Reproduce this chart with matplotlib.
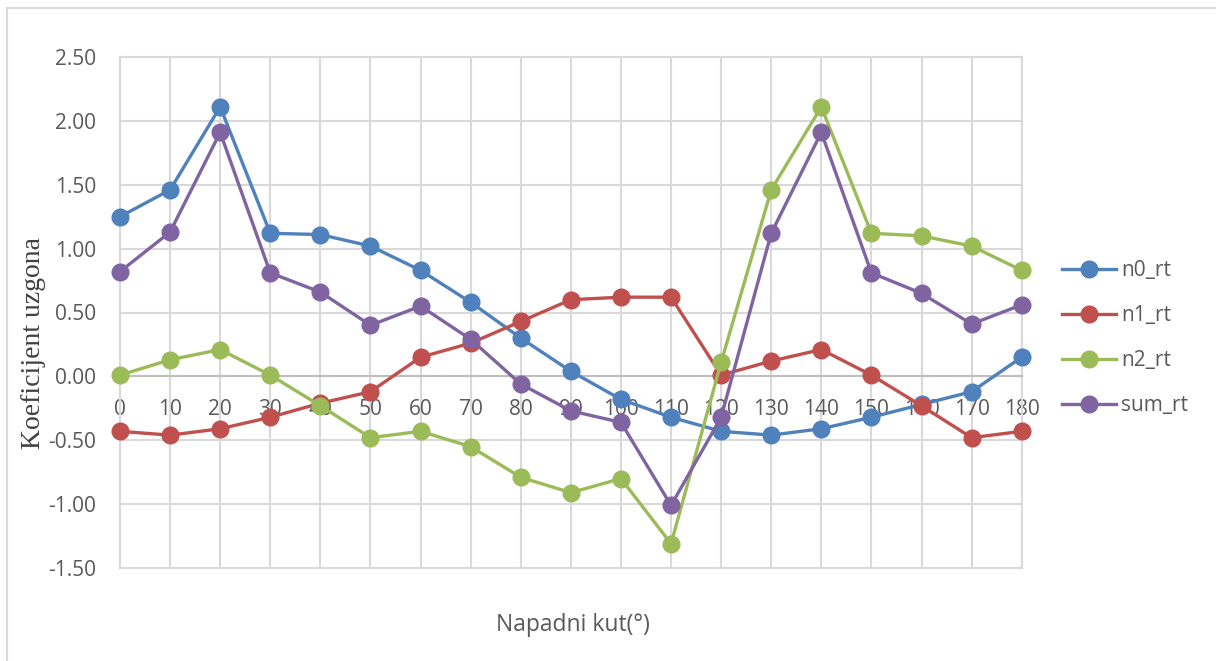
import numpy as np
from matplotlib import pyplot as plt
from matplotlib.patches import Rectangle

angles = list(range(0, 181, 10))
n0_rt = [1.25, 1.46, 2.11, 1.12, 1.11, 1.02, 0.83, 0.58, 0.30, 0.04,
         -0.18, -0.32, -0.43, -0.46, -0.41, -0.32, -0.22, -0.12, 0.15]
n1_rt = [-0.43, -0.46, -0.41, -0.32, -0.21, -0.12, 0.15, 0.26, 0.43, 0.60,
         0.62, 0.62, 0.01, 0.12, 0.21, 0.01, -0.23, -0.48, -0.43]
n2_rt = [0.01, 0.13, 0.21, 0.01, -0.23, -0.48, -0.43, -0.55, -0.79, -0.91,
         -0.80, -1.31, 0.11, 1.46, 2.11, 1.12, 1.10, 1.02, 0.83]
sum_rt = [0.82, 1.13, 1.91, 0.81, 0.66, 0.40, 0.55, 0.29, -0.06, -0.27,
          -0.36, -1.01, -0.32, 1.12, 1.91, 0.81, 0.65, 0.41, 0.56]

series = [('n0_rt', n0_rt, '#4f81bd'),
          ('n1_rt', n1_rt, '#c0504d'),
          ('n2_rt', n2_rt, '#9bbb59'),
          ('sum_rt', sum_rt, '#8064a2')]

text_col = '#595959'
grid_col = '#d9d9d9'

fig = plt.figure(figsize=(12.16, 6.61), dpi=100)
# chart border
fig.patches.append(Rectangle((7 / 1216, -0.1), 1.2, 1 - 8 / 661 + 0.1,
                             transform=fig.transFigure, fill=False,
                             edgecolor=grid_col, linewidth=1.5))

ax = fig.add_axes([120 / 1216, (661 - 568) / 661, 901.7 / 1216, 511 / 661])

for name, vals, col in series:
    ax.plot(angles, vals, color=col, linewidth=2.4, marker='o',
            markersize=12, label=name, clip_on=False, zorder=3)

ax.set_xlim(0, 180)
ax.set_ylim(-1.5, 2.5)
ax.set_xticks(angles)
ax.set_yticks(np.arange(-1.5, 2.51, 0.5))
ax.set_yticklabels(['%.2f' % v for v in np.arange(-1.5, 2.51, 0.5)])
ax.grid(True, color=grid_col, linewidth=1.5)
ax.axhline(-1.5, color=grid_col, linewidth=1.5, clip_on=False, zorder=0.4)
ax.set_axisbelow(True)

for s in ['left', 'right', 'top']:
    ax.spines[s].set_color(grid_col)
    ax.spines[s].set_linewidth(1.5)
ax.spines['bottom'].set_position(('data', 0))
ax.spines['bottom'].set_color('#bfbfbf')
ax.spines['bottom'].set_linewidth(1.5)

ax.tick_params(axis='x', length=0, pad=16, labelsize=15, labelcolor=text_col)
ax.tick_params(axis='y', length=0, pad=17, labelsize=15, labelcolor=text_col)
for lab in ax.get_xticklabels() + ax.get_yticklabels():
    lab.set_fontfamily('Open Sans')

fig.text(34 / 1216, 1 - 343 / 661, 'Koeficijent uzgona', family='Liberation Serif',
         fontsize=20, color='#404040', rotation=90, ha='center', va='center')
fig.text(573 / 1216, 1 - 625 / 661, 'Napadni kut(°)', family='Open Sans',
         fontsize=16.5, color=text_col, ha='center', va='center')

leg = fig.legend(loc='center left', bbox_to_anchor=(1062 / 1216, 1 - 338 / 661),
                 frameon=False, prop={'family': 'Open Sans', 'size': 15},
                 handlelength=2.6, labelspacing=1.15, handletextpad=0.25,
                 borderaxespad=0, borderpad=0)
for t in leg.get_texts():
    t.set_color(text_col)

fig.savefig('out.png', dpi=100)
